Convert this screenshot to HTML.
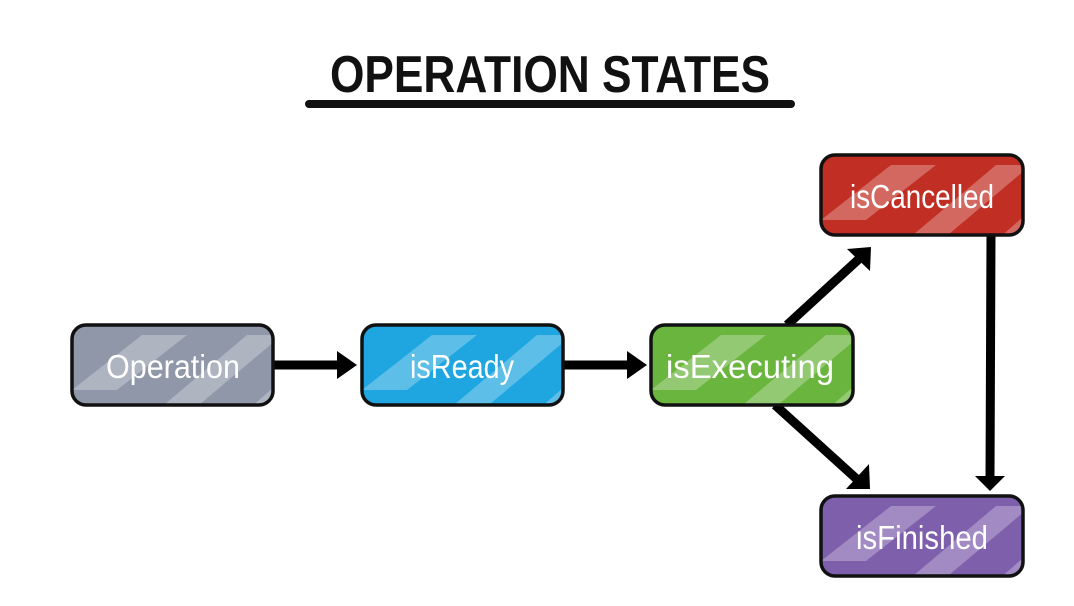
<!DOCTYPE html>
<html><head><meta charset="utf-8"><style>
html,body{margin:0;padding:0;background:#fff;width:1074px;height:606px;overflow:hidden}
</style></head><body>
<svg width="1074" height="606" viewBox="0 0 1074 606" xmlns="http://www.w3.org/2000/svg" font-family="Liberation Sans Narrow, Liberation Sans, sans-serif">
<defs>
<clipPath id="c1"><rect x="72" y="325" width="201" height="80" rx="14"/></clipPath>
<clipPath id="c2"><rect x="362" y="325" width="201" height="80" rx="14"/></clipPath>
<clipPath id="c3"><rect x="651" y="325" width="202" height="80" rx="14"/></clipPath>
<clipPath id="c4"><rect x="821" y="155" width="202" height="80" rx="14"/></clipPath>
<clipPath id="c5"><rect x="821" y="496" width="202" height="80" rx="14"/></clipPath>
<g id="st" stroke="none">
<polygon points="0,55 70,0 115,0 45,55" fill="#fff" opacity="0.28"/>
<polygon points="80,80 175,0 210,0 115,80" fill="#fff" opacity="0.28"/>
<polygon points="170,80 210,45 210,80" fill="#fff" opacity="0.28"/>
</g>
</defs>
<text x="550" y="92" text-anchor="middle" font-size="52" font-weight="bold" fill="#111" textLength="440" lengthAdjust="spacingAndGlyphs">OPERATION STATES</text>
<rect x="305" y="100" width="490" height="8" rx="4" fill="#111"/>
<g stroke="#000" stroke-width="9" fill="none">
<line x1="273" y1="365" x2="342" y2="365"/>
<line x1="563" y1="365" x2="632" y2="365"/>
<line x1="787" y1="325" x2="860" y2="258"/>
<line x1="775" y1="405" x2="860" y2="482"/>
<line x1="991" y1="235" x2="990" y2="478"/>
</g>
<g fill="#000">
<polygon points="337,351 357,365 337,379"/>
<polygon points="627,351 647,365 627,379"/>
<polygon points="847,249 871,247 870,271"/>
<polygon points="846,489 870,489 869,464"/>
<polygon points="975,476 1005,476 990,491"/>
</g>
<g clip-path="url(#c1)"><rect x="72" y="325" width="201" height="80" fill="#9097a9"/><use href="#st" x="72" y="335"/></g>
<g clip-path="url(#c2)"><rect x="362" y="325" width="201" height="80" fill="#1fa6e0"/><use href="#st" x="362" y="335"/></g>
<g clip-path="url(#c3)"><rect x="651" y="325" width="202" height="80" fill="#6ab53e"/><use href="#st" x="651" y="335"/></g>
<g clip-path="url(#c4)"><rect x="821" y="155" width="202" height="80" fill="#c12e23"/><use href="#st" x="821" y="165"/></g>
<g clip-path="url(#c5)"><rect x="821" y="496" width="202" height="80" fill="#7d5fab"/><use href="#st" x="821" y="506"/></g>
<g stroke="#111" stroke-width="3.5" fill="none">
<rect x="72" y="325" width="201" height="80" rx="14"/>
<rect x="362" y="325" width="201" height="80" rx="14"/>
<rect x="651" y="325" width="202" height="80" rx="14"/>
<rect x="821" y="155" width="202" height="80" rx="14"/>
<rect x="821" y="496" width="202" height="80" rx="14"/>
</g>
<g fill="#fff" font-size="33" text-anchor="middle">
<text x="173" y="378" textLength="134" lengthAdjust="spacingAndGlyphs">Operation</text>
<text x="462" y="378" textLength="104" lengthAdjust="spacingAndGlyphs">isReady</text>
<text x="750" y="378" textLength="168" lengthAdjust="spacingAndGlyphs">isExecuting</text>
<text x="922" y="208" textLength="144" lengthAdjust="spacingAndGlyphs">isCancelled</text>
<text x="922" y="549" textLength="132" lengthAdjust="spacingAndGlyphs">isFinished</text>
</g>
</svg>
</body></html>
